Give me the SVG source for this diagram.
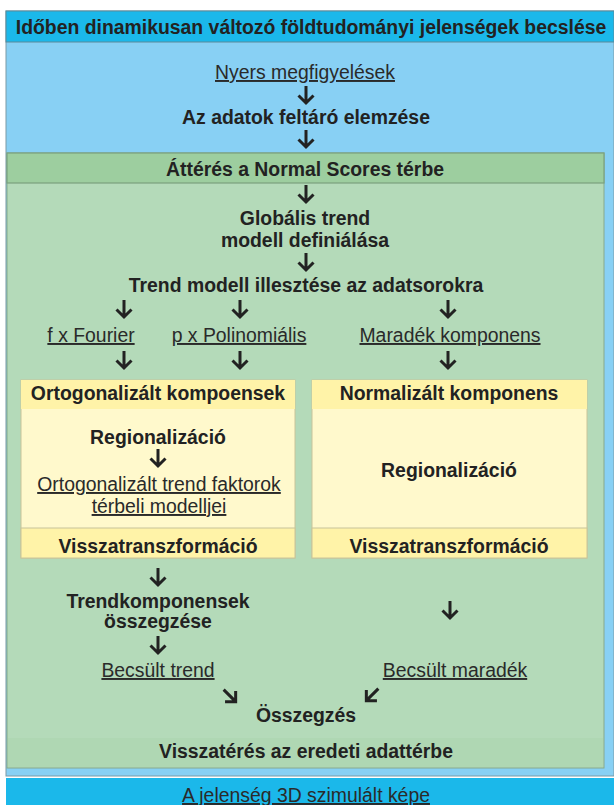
<svg xmlns="http://www.w3.org/2000/svg" width="614" height="805" viewBox="0 0 614 805">
<defs>
<style>
text{font-family:"Liberation Sans",Arial,sans-serif;fill:#222;text-anchor:middle;font-size:19.4px}
.b{font-weight:bold}
.u{text-decoration:underline;fill:#2a2a2a}
.ar{fill:none;stroke:#222;stroke-width:3;stroke-linecap:butt;stroke-linejoin:miter}
</style>
<g id="arr"><path class="ar" d="M0,-9 V8 M-7.5,0.5 L0,8 L7.5,0.5"/></g>
</defs>
<rect x="0" y="0" width="614" height="805" fill="#ffffff"/>
<g id="outer">
<rect x="6" y="11" width="608" height="765" fill="#88d0f4" stroke="#7a9aa6" stroke-width="1"/>
<rect x="6" y="11" width="608" height="31" fill="#1bb8ea" stroke="#5a8a9a" stroke-width="1"/>
<text class="b" x="311" y="34" font-size="20.6">Időben dinamikusan változó földtudományi jelenségek becslése</text>
</g>
<g id="n1"><text class="u" x="305" y="79">Nyers megfigyelések</text></g>
<g id="n2"><text class="b" x="306" y="124">Az adatok feltáró elemzése</text></g>
<g id="green">
<rect x="7" y="153" width="597" height="615" fill="#b4dab9" stroke="#86a88a" stroke-width="1"/>
<rect x="7" y="153" width="597" height="30" fill="#9dce9f" stroke="#7aa07e" stroke-width="1.2"/>
<rect x="8" y="738" width="595" height="29" fill="#afd7b3"/>
<text class="b" x="305" y="176">Áttérés a Normal Scores térbe</text>
</g>
<g id="n3"><text class="b" x="305" y="225">Globális trend</text><text class="b" x="305" y="247">modell definiálása</text></g>
<g id="n4"><text class="b" x="306" y="292">Trend modell illesztése az adatsorokra</text></g>
<g id="n5"><text class="u" x="91" y="342">f x Fourier</text></g>
<g id="n6"><text class="u" x="239" y="342">p x Polinomiális</text></g>
<g id="n7"><text class="u" x="450" y="342">Maradék komponens</text></g>
<g id="boxL">
<rect x="21" y="380" width="274" height="178" fill="#fff9cc" stroke="#c8c49a" stroke-width="1"/>
<rect x="21" y="380" width="274" height="29" fill="#fff3a8"/>
<rect x="21" y="528" width="274" height="30" fill="#fff3a8" stroke="#c8c49a" stroke-width="1"/>
<text class="b" x="158" y="400">Ortogonalizált kompoensek</text>
<text class="b" x="158" y="444">Regionalizáció</text>
<text class="u" x="159" y="491">Ortogonalizált trend faktorok</text>
<text class="u" x="159" y="513">térbeli modelljei</text>
<text class="b" x="158" y="553">Visszatranszformáció</text>
</g>
<g id="boxR">
<rect x="312" y="380" width="275" height="178" fill="#fff9cc" stroke="#c8c49a" stroke-width="1"/>
<rect x="312" y="380" width="275" height="29" fill="#fff3a8"/>
<rect x="312" y="528" width="275" height="30" fill="#fff3a8" stroke="#c8c49a" stroke-width="1"/>
<text class="b" x="449" y="400">Normalizált komponens</text>
<text class="b" x="449" y="477">Regionalizáció</text>
<text class="b" x="449" y="553">Visszatranszformáció</text>
</g>
<g id="n8"><text class="b" x="158" y="608">Trendkomponensek</text><text class="b" x="158" y="628">összegzése</text></g>
<g id="n9"><text class="u" x="158" y="677">Becsült trend</text></g>
<g id="n10"><text class="u" x="455" y="677">Becsült maradék</text></g>
<g id="n11"><text class="b" x="306" y="722">Összegzés</text></g>
<g id="n12"><text class="b" x="306" y="758">Visszatérés az eredeti adattérbe</text></g>
<g id="bottom">
<rect x="6" y="778" width="608" height="27" fill="#1bb8ea"/>
<text class="u" x="306" y="802">A jelenség 3D szimulált képe</text>
</g>
<g id="connectors">
<use href="#arr" x="306" y="95"/>
<use href="#arr" x="306" y="139"/>
<use href="#arr" x="306" y="194"/>
<use href="#arr" x="306" y="262"/>
<use href="#arr" x="124" y="309"/>
<use href="#arr" x="240" y="309"/>
<use href="#arr" x="448" y="309"/>
<use href="#arr" x="124" y="360"/>
<use href="#arr" x="240" y="360"/>
<use href="#arr" x="448" y="360"/>
<use href="#arr" x="158" y="458"/>
<use href="#arr" x="158" y="577"/>
<use href="#arr" x="158" y="645"/>
<use href="#arr" x="450" y="610"/>
<use href="#arr" transform="translate(230,696) rotate(-45)"/>
<use href="#arr" transform="translate(372,695) rotate(45)"/>
</g>
</svg>
